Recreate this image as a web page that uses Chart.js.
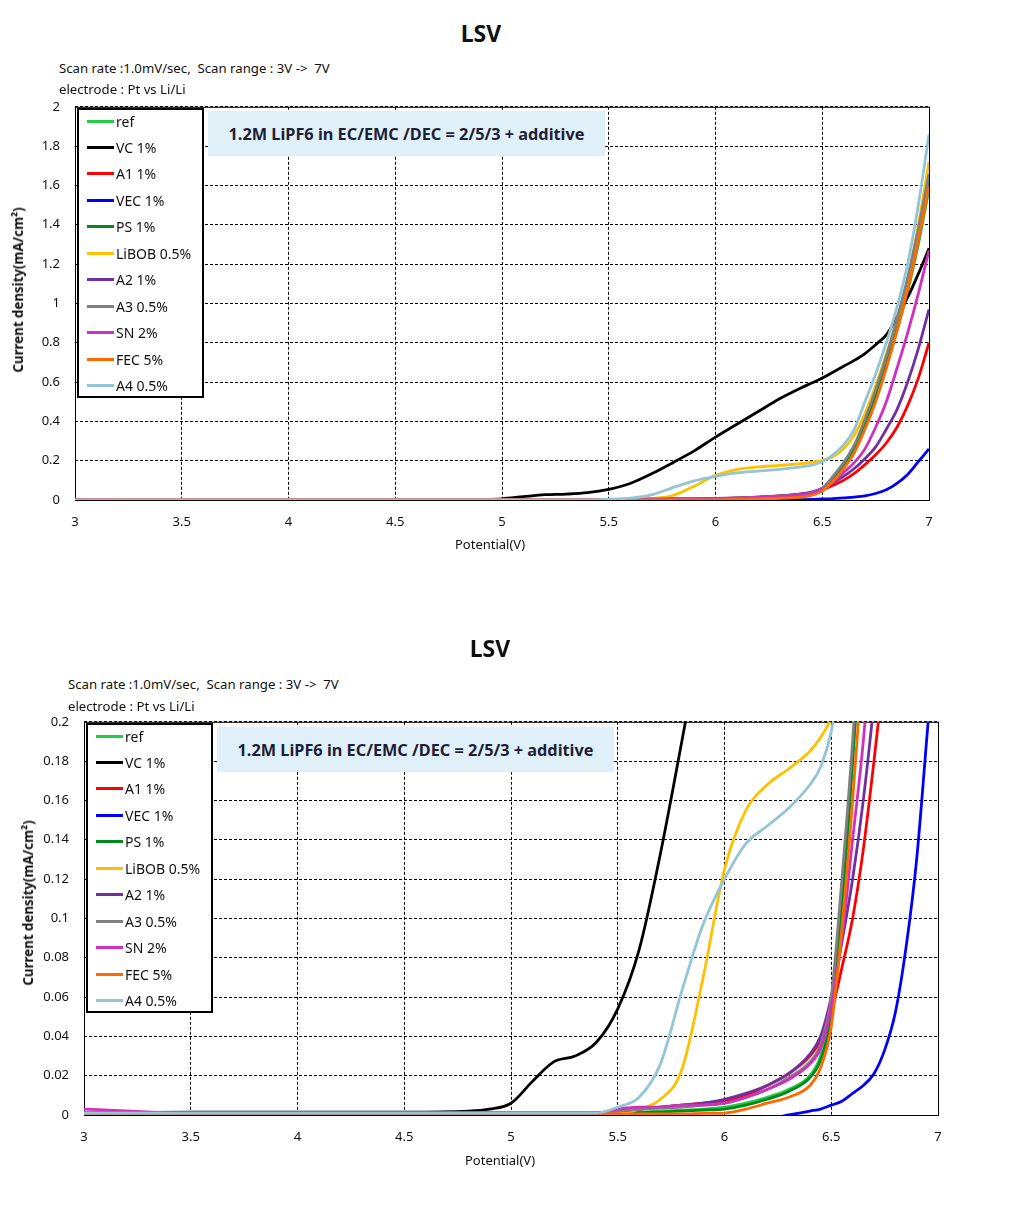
<!DOCTYPE html>
<html lang="en">
<head>
  <meta charset="UTF-8" />
  <title>LSV</title>
  <script src="https://cdn.jsdelivr.net/npm/chart.js"></script>
  <style>
    body { margin: 0; background: #fff; font-family: "Noto Sans", sans-serif; color: #111; }
    .page { position: relative; width: 1014px; height: 1209px; overflow: hidden; }
    .abs { position: absolute; white-space: nowrap; }
    .title { font-size: 23px; font-weight: bold; transform: translate(-50%, -50%); }
    .note { font-size: 13.2px; transform: translateY(-50%); }
    .xtitle { font-size: 13px; transform: translate(-50%, -50%); }
    .ytitle { font-size: 13.3px; font-weight: bold; transform: translate(-50%, -50%) rotate(-90deg); }
    .anno { background: #dff0f8; font-size: 16.3px; font-weight: bold; color: #1e1e36;
            display: flex; align-items: center; justify-content: center; }
    .legend { background: #fff; border: 2px solid #000; box-sizing: border-box; }
    .legend .row { position: absolute; left: 8px; height: 20px; display: flex; align-items: center; font-size: 14px; }
    .legend .swatch { width: 27px; height: 3px; margin-right: 2px; }
    canvas { position: absolute; left: 0; }
  </style>
</head>
<body>
<div class="page">
  <!-- TOP: full range -->
  <canvas id="chartFull" width="1014" height="482" style="top:84px;"></canvas>
  <div class="abs title" style="left:481px; top:33px;">LSV</div>
  <div class="abs note" style="left:59px; top:68px;">Scan rate :1.0mV/sec,&nbsp; Scan range : 3V -&gt; &nbsp;7V</div>
  <div class="abs note" style="left:59px; top:89px;">electrode : Pt vs Li/Li</div>
  <div class="abs ytitle" style="left:18px; top:290px;">Current density(mA/cm²)</div>
  <div class="abs xtitle" style="left:490px; top:544px;">Potential(V)</div>
  <div class="abs anno" style="left:208px; top:111px; width:397px; height:45px;">1.2M LiPF6 in EC/EMC /DEC = 2/5/3 + additive</div>
  <div class="abs legend" id="legendFull" style="left:77px; top:108px; width:127px; height:290px;"></div>

  <!-- BOTTOM: zoomed 0 - 0.2 -->
  <canvas id="chartZoom" width="1014" height="482" style="top:699px;"></canvas>
  <div class="abs title" style="left:490px; top:648px;">LSV</div>
  <div class="abs note" style="left:68px; top:684px;">Scan rate :1.0mV/sec,&nbsp; Scan range : 3V -&gt; &nbsp;7V</div>
  <div class="abs note" style="left:68px; top:706px;">electrode : Pt vs Li/Li</div>
  <div class="abs ytitle" style="left:28px; top:903px;">Current density(mA/cm²)</div>
  <div class="abs xtitle" style="left:500px; top:1160px;">Potential(V)</div>
  <div class="abs anno" style="left:217px; top:727px; width:397px; height:45px;">1.2M LiPF6 in EC/EMC /DEC = 2/5/3 + additive</div>
  <div class="abs legend" id="legendZoom" style="left:86px; top:723px; width:127px; height:290px;"></div>
</div>

<script>
  // potential grid (V) shared by all series
  const potential = [3.0, 3.5, 4.0, 4.5, 4.8, 4.9, 5.0, 5.1, 5.2, 5.3, 5.4,
                     5.5, 5.6, 5.7, 5.8, 5.9, 6.0, 6.1, 6.2, 6.3, 6.4,
                     6.45, 6.5, 6.55, 6.6, 6.65, 6.7, 6.75, 6.8, 6.85, 6.9, 6.95, 7.0];

  // current density (mA/cm2)
  const ref   = [0.001, 0.001, 0.001, 0.001, 0.001, 0.001, 0.001, 0.001, 0.001, 0.001, 0.001,
                 0.001, 0.0015, 0.002, 0.0025, 0.003, 0.004, 0.006, 0.009, 0.013, 0.02,
                 0.03, 0.055, 0.11, 0.18, 0.26, 0.38, 0.52, 0.68, 0.86, 1.06, 1.3, 1.58];
  const vc    = [0.001, 0.0015, 0.0015, 0.0015, 0.002, 0.003, 0.006, 0.017, 0.027, 0.030, 0.037,
                 0.054, 0.084, 0.133, 0.19, 0.25, 0.32, 0.385, 0.45, 0.515, 0.57,
                 0.595, 0.62, 0.65, 0.68, 0.71, 0.745, 0.79, 0.84, 0.93, 1.03, 1.15, 1.28];
  const a1    = [0.001, 0.001, 0.001, 0.001, 0.001, 0.001, 0.001, 0.001, 0.001, 0.001, 0.001,
                 0.002, 0.003, 0.004, 0.005, 0.006, 0.007, 0.01, 0.015, 0.021, 0.03,
                 0.038, 0.052, 0.075, 0.10, 0.135, 0.18, 0.23, 0.29, 0.37, 0.48, 0.62, 0.80];
  const vec   = [-0.002, -0.002, -0.002, -0.002, -0.002, -0.002, -0.002, -0.002, -0.002, -0.002, -0.002,
                 -0.002, -0.002, -0.002, -0.002, -0.002, -0.002, -0.002, -0.002, 0.0, 0.002,
                 0.003, 0.005, 0.007, 0.011, 0.015, 0.021, 0.033, 0.052, 0.085, 0.13, 0.195, 0.26];
  const ps    = [0.001, 0.001, 0.001, 0.001, 0.001, 0.001, 0.001, 0.001, 0.001, 0.001, 0.001,
                 0.001, 0.0012, 0.0015, 0.002, 0.0025, 0.003, 0.005, 0.008, 0.012, 0.019,
                 0.028, 0.05, 0.105, 0.18, 0.27, 0.39, 0.53, 0.70, 0.88, 1.08, 1.32, 1.62];
  const libob = [0.001, 0.001, 0.001, 0.001, 0.001, 0.001, 0.001, 0.001, 0.001, 0.001, 0.001,
                 0.001, 0.003, 0.008, 0.023, 0.07, 0.125, 0.155, 0.168, 0.176, 0.185,
                 0.192, 0.202, 0.22, 0.26, 0.33, 0.44, 0.58, 0.74, 0.92, 1.12, 1.4, 1.72];
  const a2    = [0.001, 0.001, 0.001, 0.001, 0.001, 0.001, 0.001, 0.001, 0.001, 0.001, 0.001,
                 0.002, 0.003, 0.004, 0.005, 0.006, 0.008, 0.011, 0.015, 0.021, 0.031,
                 0.04, 0.06, 0.088, 0.12, 0.16, 0.21, 0.27, 0.36, 0.46, 0.6, 0.77, 0.97];
  const a3    = [0.001, 0.001, 0.001, 0.001, 0.001, 0.001, 0.001, 0.001, 0.001, 0.001, 0.001,
                 0.002, 0.003, 0.0035, 0.004, 0.005, 0.006, 0.009, 0.013, 0.019, 0.027,
                 0.036, 0.06, 0.12, 0.19, 0.28, 0.41, 0.56, 0.73, 0.92, 1.13, 1.38, 1.66];
  const sn    = [0.003, 0.001, 0.001, 0.001, 0.001, 0.001, 0.001, 0.001, 0.001, 0.001, 0.001,
                 0.003, 0.004, 0.004, 0.005, 0.005, 0.006, 0.009, 0.013, 0.018, 0.026,
                 0.034, 0.055, 0.09, 0.14, 0.19, 0.26, 0.37, 0.5, 0.67, 0.85, 1.05, 1.27];
  const fec   = [0.001, 0.001, 0.001, 0.001, 0.001, 0.001, 0.001, 0.001, 0.001, 0.001, 0.001,
                 0.0005, 0.0005, 0.0005, 0.0005, 0.0008, 0.001, 0.003, 0.006, 0.009, 0.015,
                 0.024, 0.045, 0.095, 0.16, 0.24, 0.36, 0.5, 0.67, 0.86, 1.07, 1.32, 1.6];
  const a4    = [0.001, 0.001, 0.001, 0.001, 0.001, 0.001, 0.001, 0.001, 0.001, 0.001, 0.001,
                 0.004, 0.009, 0.026, 0.063, 0.097, 0.12, 0.138, 0.147, 0.156, 0.168,
                 0.177, 0.195, 0.23, 0.28, 0.36, 0.5, 0.64, 0.8, 0.98, 1.2, 1.5, 1.86];

  const seriesNames  = ['ref', 'VC 1%', 'A1 1%', 'VEC 1%', 'PS 1%', 'LiBOB 0.5%', 'A2 1%', 'A3 0.5%', 'SN 2%', 'FEC 5%', 'A4 0.5%'];
  const seriesValues = [ref, vc, a1, vec, ps, libob, a2, a3, sn, fec, a4];
  const seriesColors = ['#22cc44', '#000000', '#ff0000', '#0000ff', '#008a1e', '#ffc000',
                        '#7030a0', '#808080', '#d030c0', '#ff6a00', '#93c5d6'];

  // tick labels
  const xTicks = [3, 3.5, 4, 4.5, 5, 5.5, 6, 6.5, 7];
  const yTicksFull = [0, 0.2, 0.4, 0.6, 0.8, 1, 1.2, 1.4, 1.6, 1.8, 2];
  const yTicksZoom = [0, 0.02, 0.04, 0.06, 0.08, 0.1, 0.12, 0.14, 0.16, 0.18, 0.2];

  const tickFont = { family: '"Noto Sans", sans-serif', size: 13 };

  // solid frame around the plot area
  const framePlugin = {
    id: 'frame',
    beforeDatasetsDraw(chart) {
      const { ctx, chartArea: a } = chart;
      ctx.save();
      ctx.strokeStyle = '#000';
      ctx.lineWidth = 1;
      ctx.strokeRect(a.left + 0.5, a.top + 0.5, a.right - a.left, a.bottom - a.top);
      ctx.restore();
    }
  };

  function makeChart(id, yTicks, yAxisWidth, padTop, padRight) {
    const n = seriesNames.length;
    const datasets = seriesNames.map((name, i) => ({
      label: name,
      data: potential.map((p, k) => ({ x: p, y: seriesValues[i][k] })),
      borderColor: seriesColors[i],
      backgroundColor: seriesColors[i],
      order: n - 1 - i   // later series drawn on top, like the original
    }));

    return new Chart(document.getElementById(id), {
      type: 'line',
      data: { datasets },
      plugins: [framePlugin],
      options: {
        responsive: false,
        animation: false,
        layout: { padding: { left: 0, top: padTop, right: padRight, bottom: 6 } },
        plugins: { legend: { display: false }, tooltip: { enabled: false } },
        elements: {
          point: { radius: 0 },
          line: { borderWidth: 2.8, cubicInterpolationMode: 'monotone' }
        },
        scales: {
          x: {
            type: 'linear',
            min: xTicks[0],
            max: xTicks[xTicks.length - 1],
            afterBuildTicks: s => { s.ticks = xTicks.map(v => ({ value: v })); },
            afterFit: s => { s.height = 60; },
            ticks: { font: tickFont, color: '#111', padding: 14, maxRotation: 0, callback: v => String(v) },
            grid: { color: '#000', lineWidth: 1, drawTicks: false },
            border: { display: false, dash: [3, 2] }
          },
          y: {
            type: 'linear',
            min: yTicks[0],
            max: yTicks[yTicks.length - 1],
            afterBuildTicks: s => { s.ticks = yTicks.map(v => ({ value: v })); },
            afterFit: s => { s.width = yAxisWidth; },
            ticks: { font: tickFont, color: '#111', padding: 15, callback: v => String(v) },
            grid: { color: '#000', lineWidth: 1, drawTicks: false },
            border: { display: false, dash: [3, 2] }
          }
        }
      }
    });
  }

  function buildLegend(id) {
    const box = document.getElementById(id);
    seriesNames.forEach((name, i) => {
      const row = document.createElement('div');
      row.className = 'row';
      row.style.top = (1 + i * 26.45) + 'px';
      const sw = document.createElement('span');
      sw.className = 'swatch';
      sw.style.background = seriesColors[i];
      const txt = document.createElement('span');
      txt.textContent = name;
      row.appendChild(sw);
      row.appendChild(txt);
      box.appendChild(row);
    });
  }

  makeChart('chartFull', yTicksFull, 75, 10, 85);
  makeChart('chartZoom', yTicksZoom, 84, 11, 76);
  buildLegend('legendFull');
  buildLegend('legendZoom');
</script>
</body>
</html>
